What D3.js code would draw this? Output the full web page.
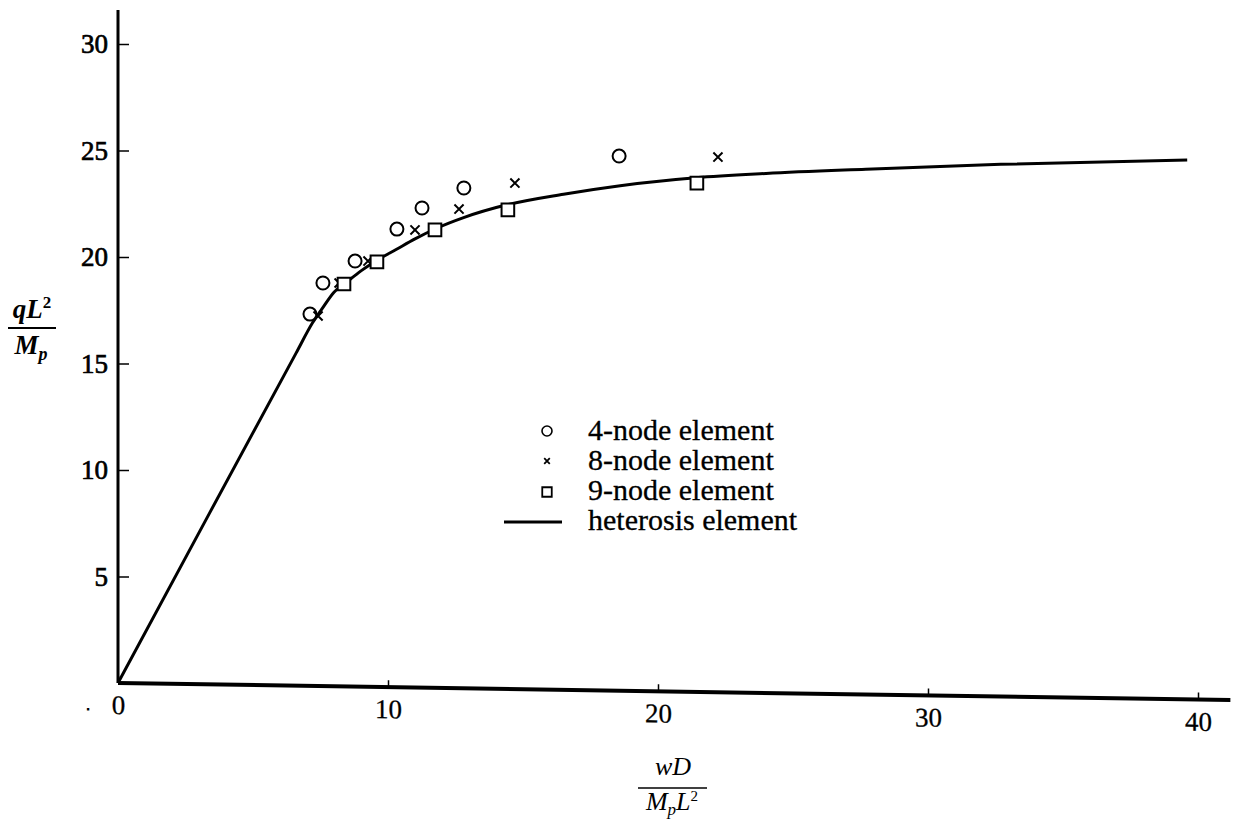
<!DOCTYPE html>
<html>
<head>
<meta charset="utf-8">
<script src="https://cdn.jsdelivr.net/npm/d3@7"></script>
<style>
  body { margin: 0; background: #fff; }
  svg { display: block; font-family: "Liberation Serif", "DejaVu Serif", serif; }
  .tick text { font-family: "Liberation Serif", serif; }
</style>
</head>
<body>
<svg id="chart"></svg>
<script>
// ticks
const xTicks = [0, 10, 20, 30, 40];
const yTicks = [5, 10, 15, 20, 25, 30];

// 4-node element (circles)
const fourNodeX = [7.11, 7.59, 8.78, 10.33, 11.26, 12.81, 18.56];
const fourNodeY = [17.32, 18.78, 19.81, 21.31, 22.30, 23.24, 24.74];

// 8-node element (crosses)
const eightNodeX = [7.41, 8.19, 9.26, 11.0, 12.63, 14.70, 22.22];
const eightNodeY = [17.23, 18.78, 19.81, 21.27, 22.25, 23.47, 24.69];

// 9-node element (squares)
const nineNodeX = [8.37, 9.59, 11.74, 14.44, 21.44];
const nineNodeY = [18.73, 19.77, 21.27, 22.21, 23.47];

// heterosis element (solid curve)
const heteroX = [0, 3.4, 6.6, 7.2, 7.6, 8.0, 8.4, 9.0, 9.6, 10.3, 11.0, 11.8, 12.8, 14.4, 16.5, 18.6, 21.4, 24.0, 27.7, 32.7, 39.6];
const heteroY = [0, 8.0, 15.5, 16.9, 17.65, 18.35, 18.75, 19.35, 19.85, 20.35, 20.85, 21.35, 21.85, 22.45, 22.95, 23.35, 23.72, 23.92, 24.12, 24.35, 24.55];

const legendLabels = ["4-node element", "8-node element", "9-node element", "heterosis element"];

const width = 1240, height = 823;

const svg = d3.select("#chart")
    .attr("width", width)
    .attr("height", height);

const x = d3.scaleLinear().domain([0, 40]).range([118, 1198]);
const y = d3.scaleLinear().domain([0, 30]).range([683, 44]);

// y axis, ticks pointing inward, labels on the left
const yAxisG = svg.append("g")
    .attr("transform", `translate(${x(0)},0)`)
    .call(d3.axisLeft(y).tickValues(yTicks).tickSizeInner(-11).tickSizeOuter(0).tickPadding(10));
yAxisG.select(".domain").remove();
yAxisG.selectAll(".tick line").attr("stroke", "#000").attr("stroke-width", 1.5);
yAxisG.selectAll(".tick text")
    .style("font-family", "'Liberation Serif', serif")
    .attr("font-size", 27)
    .attr("fill", "#000")
    .attr("stroke", "#000")
    .attr("stroke-width", 0.7);

svg.append("line")
    .attr("x1", x(0)).attr("x2", x(0))
    .attr("y1", y(0)).attr("y2", y(31.6))
    .attr("stroke", "#000")
    .attr("stroke-width", 3);

// x axis - the scanned figure leans slightly, so shear it
const skew = 0.88;
const xAxisG = svg.append("g")
    .attr("transform", `translate(${x(0)},${y(0)}) skewY(${skew}) translate(${-x(0)},0)`);
xAxisG.call(d3.axisBottom(x).tickValues(xTicks).tickSizeInner(-7).tickSizeOuter(0).tickPadding(12));
xAxisG.select(".domain").remove();
xAxisG.selectAll(".tick line").attr("stroke", "#000").attr("stroke-width", 1.5);
xAxisG.selectAll(".tick text")
    .style("font-family", "'Liberation Serif', serif")
    .attr("font-size", 27)
    .attr("fill", "#000")
    .attr("stroke", "#000")
    .attr("stroke-width", 0.3);
xAxisG.append("line")
    .attr("x1", x(0)).attr("x2", x(41.2))
    .attr("y1", 0).attr("y2", 0)
    .attr("stroke", "#000")
    .attr("stroke-width", 4);
xAxisG.append("text")
    .attr("x", x(0) - 30).attr("y", 28)
    .attr("font-size", 24)
    .attr("fill", "#000")
    .text(".");

// heterosis curve
const heteroData = heteroX.map((d, i) => ({ x: d, y: heteroY[i] }));
svg.append("path")
    .datum(heteroData)
    .attr("fill", "none")
    .attr("stroke", "#000")
    .attr("stroke-width", 3)
    .attr("d", d3.line().x(d => x(d.x)).y(d => y(d.y)).curve(d3.curveMonotoneX));

// markers
function drawMarkers(xs, ys, type, size) {
    svg.append("g").selectAll("path")
        .data(xs.map((d, i) => ({ x: d, y: ys[i] })))
        .enter()
        .append("path")
        .attr("transform", d => `translate(${x(d.x)},${y(d.y)})`)
        .attr("d", d3.symbol().type(type).size(size))
        .attr("fill", type === d3.symbolTimes ? "none" : "#fff")
        .attr("stroke", "#000")
        .attr("stroke-width", 2);
}
drawMarkers(fourNodeX, fourNodeY, d3.symbolCircle, Math.PI * 6.5 * 6.5);
drawMarkers(eightNodeX, eightNodeY, d3.symbolTimes, 56);
drawMarkers(nineNodeX, nineNodeY, d3.symbolSquare, 160);

// legend
const legend = svg.append("g");
const legendY = [440, 470, 500, 530];
const symX = 547;
legend.append("path")
    .attr("transform", `translate(${symX},${legendY[0] - 9})`)
    .attr("d", d3.symbol().type(d3.symbolCircle).size(Math.PI * 25))
    .attr("fill", "none").attr("stroke", "#000").attr("stroke-width", 1.6);
legend.append("path")
    .attr("transform", `translate(${symX},${legendY[1] - 9})`)
    .attr("d", d3.symbol().type(d3.symbolTimes).size(22))
    .attr("fill", "none").attr("stroke", "#000").attr("stroke-width", 1.8);
legend.append("path")
    .attr("transform", `translate(${symX},${legendY[2] - 8})`)
    .attr("d", d3.symbol().type(d3.symbolSquare).size(90))
    .attr("fill", "none").attr("stroke", "#000").attr("stroke-width", 1.8);
legend.append("line")
    .attr("x1", 504).attr("x2", 562)
    .attr("y1", legendY[3] - 8).attr("y2", legendY[3] - 8)
    .attr("stroke", "#000").attr("stroke-width", 3);
legend.selectAll("text")
    .data(legendLabels)
    .enter()
    .append("text")
    .attr("x", 588)
    .attr("y", (d, i) => legendY[i])
    .attr("font-size", 30)
    .attr("fill", "#000")
    .attr("stroke", "#000")
    .attr("stroke-width", 0.3)
    .text(d => d);

// y axis title: qL^2 / Mp
const yTitle = svg.append("g")
    .attr("font-style", "italic")
    .attr("font-weight", "bold")
    .attr("font-size", 27)
    .attr("fill", "#000");
const yNum = yTitle.append("text").attr("x", 32).attr("y", 318).attr("text-anchor", "middle");
yNum.append("tspan").text("qL");
yNum.append("tspan").attr("dy", -10).attr("font-size", 17).attr("font-style", "normal").text("2");
yTitle.append("line")
    .attr("x1", 8).attr("x2", 56).attr("y1", 328).attr("y2", 328)
    .attr("stroke", "#000").attr("stroke-width", 2);
const yDen = yTitle.append("text").attr("x", 31).attr("y", 354).attr("text-anchor", "middle");
yDen.append("tspan").text("M");
yDen.append("tspan").attr("dy", 6).attr("font-size", 18).text("p");

// x axis title: wD / MpL^2
const xTitle = svg.append("g")
    .attr("font-style", "italic")
    .attr("font-size", 26)
    .attr("fill", "#000");
xTitle.append("text").attr("x", 673).attr("y", 775).attr("text-anchor", "middle").text("wD");
xTitle.append("line")
    .attr("x1", 638).attr("x2", 707).attr("y1", 788).attr("y2", 788)
    .attr("stroke", "#000").attr("stroke-width", 1.6);
const xDen = xTitle.append("text").attr("x", 672).attr("y", 810).attr("text-anchor", "middle");
xDen.append("tspan").text("M");
xDen.append("tspan").attr("dy", 5).attr("font-size", 17).text("p");
xDen.append("tspan").attr("dy", -5).text("L");
xDen.append("tspan").attr("dy", -9).attr("font-size", 15).attr("font-style", "normal").text("2");
</script>
</body>
</html>
